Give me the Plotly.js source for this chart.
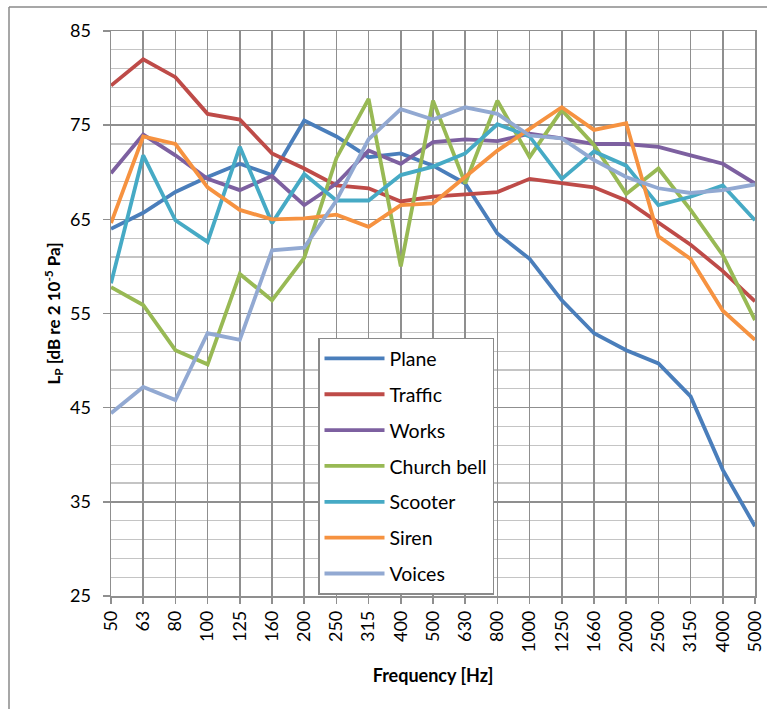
<!DOCTYPE html>
<html>
<head>
<meta charset="utf-8">
<script src="https://cdn.plot.ly/plotly-3.0.1.min.js"></script>
<style>
html,body{margin:0;padding:0;background:#fff;}
#chart{width:767px;height:709px;}
</style>
</head>
<body>
<div id="chart"></div>
<script>
const frequencies = ["50","63","80","100","125","160","200","250","315","400","500","630","800","1000","1250","1660","2000","2500","3150","4000","5000"];

const plane      = [64.0,65.7,67.9,69.5,70.9,69.7,75.5,73.8,71.6,72.0,70.7,68.8,63.5,60.8,56.4,52.9,51.1,49.7,46.2,38.4,32.4];
const traffic    = [79.2,82.0,80.1,76.2,75.6,72.0,70.4,68.6,68.3,66.9,67.4,67.6,67.9,69.3,68.8,68.4,67.0,64.7,62.3,59.5,56.3];
const works      = [69.9,74.0,71.8,69.3,68.1,69.6,66.5,68.8,72.3,70.9,73.2,73.5,73.3,74.1,73.6,73.0,73.0,72.7,71.8,70.9,68.8];
const churchBell = [57.8,55.9,51.1,49.6,59.2,56.4,60.9,71.5,77.8,60.0,77.6,68.8,77.6,71.6,76.6,72.9,67.7,70.4,66.0,61.2,54.3];
const scooter    = [58.2,71.8,64.9,62.6,72.7,64.6,69.8,67.0,67.0,69.7,70.6,72.0,75.1,73.8,69.3,72.2,70.7,66.5,67.4,68.6,64.9];
const siren      = [64.6,73.8,73.0,68.4,66.0,65.0,65.1,65.5,64.2,66.5,66.7,69.5,72.3,74.6,76.9,74.5,75.2,63.2,60.8,55.3,52.2];
const voices     = [44.4,47.2,45.8,52.9,52.2,61.7,62.0,67.0,73.5,76.7,75.6,76.9,76.2,73.9,73.6,71.3,69.5,68.3,67.8,68.1,68.7];

const seriesNames  = ["Plane","Traffic","Works","Church bell","Scooter","Siren","Voices"];
const seriesValues = [plane, traffic, works, churchBell, scooter, siren, voices];
const seriesColors = ["#4A7EBB","#BE4B48","#7D60A0","#98B954","#46AAC5","#F69240","#92A9D2"];

const yTickVals = [25,35,45,55,65,75,85];

const traces = seriesNames.map((name, i) => ({
  type: "scatter",
  mode: "lines",
  name: name,
  legendgroup: "g" + i,
  x: frequencies,
  y: seriesValues[i],
  line: {color: seriesColors[i], width: 3.8}
}));

const FONT = "Lato, 'Open Sans', sans-serif";
const GRID = "#8f8f8f";

// plot area geometry (px) for the outer frame
const L = 111, R = 12, T = 31, B = 112.5, W = 767, H = 709;
const pw = W - L - R, ph = H - T - B;
const fx = px => (px - L) / pw;
const fy = py => (H - B - py) / ph;

const layout = {
  width: W, height: H,
  margin: {l: L, r: R, t: T, b: B},
  paper_bgcolor: "#ffffff",
  plot_bgcolor: "#ffffff",
  font: {family: FONT, size: 18, color: "#000"},
  showlegend: true,
  legend: {
    x: fx(318), y: fy(338), xanchor: "left", yanchor: "top",
    bgcolor: "#ffffff", bordercolor: "#8a8a8a", borderwidth: 1.5,
    font: {family: FONT, size: 19.5, color: "#000"},
    traceorder: "grouped", tracegroupgap: 7.5,
    itemwidth: 60
  },
  xaxis: {
    type: "category",
    range: [0, frequencies.length - 1],
    tickangle: -90,
    showgrid: true, gridcolor: GRID, gridwidth: 1.5,
    showline: true, linecolor: GRID, linewidth: 1.5, mirror: true,
    ticks: "outside", ticklen: 6, tickcolor: GRID, tickwidth: 1.5,
    tickfont: {family: FONT, size: 18, color: "#000"},
    title: {text: "<b>Frequency [Hz]</b>", font: {family: FONT, size: 18, color: "#000"}, standoff: 18},
    fixedrange: true, zeroline: false
  },
  yaxis: {
    range: [25, 85],
    tickvals: yTickVals,
    ticktext: yTickVals.map(String),
    showgrid: true, gridcolor: GRID, gridwidth: 1.5,
    minor: {dtick: 2, tick0: 25, showgrid: true, gridcolor: "#c4c4c4", gridwidth: 1.2, ticks: ""},
    showline: true, linecolor: GRID, linewidth: 1.5, mirror: true,
    ticks: "outside", ticklen: 7, tickcolor: GRID, tickwidth: 1.5,
    ticklabelstandoff: 8,
    tickfont: {family: FONT, size: 18, color: "#000"},
    title: {text: "<b>L<sub>P</sub> [dB re 2 10<sup>-5</sup> Pa]</b>", font: {family: FONT, size: 17, color: "#000"}, standoff: 5},
    fixedrange: true, zeroline: false
  },
  shapes: [
    {type: "line", xref: "paper", yref: "paper", x0: fx(9), x1: fx(9), y0: fy(7), y1: fy(712), line: {color: "#8a8a8a", width: 1.5}},
    {type: "line", xref: "paper", yref: "paper", x0: fx(9), x1: fx(770), y0: fy(7), y1: fy(7), line: {color: "#8a8a8a", width: 1.5}}
  ]
};

Plotly.newPlot("chart", traces, layout, {displayModeBar: false, staticPlot: true});
</script>
</body>
</html>
